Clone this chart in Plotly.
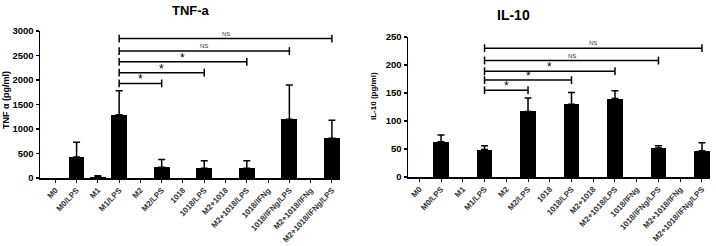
import plotly.graph_objects as go

categories = ["M0", "M0/LPS", "M1", "M1/LPS", "M2", "M2/LPS", "1018", "1018/LPS",
              "M2+1018", "M2+1018/LPS", "1018/IFNg", "1018/IFNg/LPS",
              "M2+1018/IFNg", "M2+1018/IFNg/LPS"]

tnf_mean = [0, 430, 30, 1290, 0, 220, 0, 200, 0, 200, 10, 1200, 0, 810]
tnf_err = [0, 300, 15, 490, 0, 160, 0, 150, 0, 150, 0, 700, 0, 370]

il10_mean = [0, 63, 0, 49, 0, 117, 0, 130, 0, 140, 0, 52, 0, 47]
il10_err = [0, 12, 0, 7, 0, 24, 0, 21, 0, 14, 0, 4, 0, 14]

# significance brackets: from M1/LPS to target category
bracket_targets = ["M2/LPS", "1018/LPS", "M2+1018/LPS", "1018/IFNg/LPS", "M2+1018/IFNg/LPS"]
bracket_labels = ["*", "*", "*", "NS", "NS"]
tnf_bracket_y = [1930, 2150, 2370, 2590, 2845]
il10_bracket_y = [155, 173, 189, 208, 230]
bracket_from = "M1/LPS"

W, H = 716, 246


def px(v):
    return v / W


def py(v):
    return 1 - v / H


fig = go.Figure()
xs = list(range(len(categories)))


def add_panel(mean, err, width, xa, ya):
    fig.add_trace(go.Bar(x=xs, y=mean, width=width,
                         marker=dict(color="black", line=dict(width=0)),
                         xaxis=xa, yaxis=ya, showlegend=False, hoverinfo="skip"))
    idx = [i for i, e in enumerate(err) if e > 0]
    fig.add_trace(go.Scatter(
        x=[xs[i] for i in idx], y=[mean[i] for i in idx], mode="markers",
        marker=dict(size=1, opacity=0),
        error_y=dict(type="data", symmetric=False, array=[err[i] for i in idx],
                     arrayminus=[0] * len(idx), color="black", thickness=1.5, width=3.5),
        xaxis=xa, yaxis=ya, showlegend=False, hoverinfo="skip"))


add_panel(tnf_mean, tnf_err, 0.74, "x", "y")
add_panel(il10_mean, il10_err, 0.72, "x2", "y2")

tickfont_x = dict(family="Liberation Sans, Arial, sans-serif", size=8, color="#333", weight="bold")

common_x = dict(tickmode="array", tickvals=xs, ticktext=categories, tickangle=-47,
                tickfont=tickfont_x, showline=True, linecolor="black", linewidth=1.5,
                ticks="outside", ticklen=3, tickwidth=1, tickcolor="black",
                showgrid=False, zeroline=False, fixedrange=True, automargin=False)
common_y = dict(showline=True, linecolor="black", linewidth=1.5, ticks="outside",
                ticklen=3, tickwidth=1.5, tickcolor="black", showgrid=False, zeroline=False,
                automargin=False, fixedrange=True,
                tickfont=dict(family="Liberation Sans, Arial, sans-serif", size=9.5,
                              color="black", weight="bold"))

fig.update_layout(
    width=W, height=H, margin=dict(l=0, r=0, t=0, b=0, autoexpand=False),
    plot_bgcolor="white", paper_bgcolor="white", bargap=0,
    xaxis=dict(domain=[px(40), px(340)], range=[-0.72, 13.38], anchor="y", **common_x),
    yaxis=dict(domain=[py(178), py(31)], range=[0, 3000], anchor="x",
               tickvals=[0, 500, 1000, 1500, 2000, 2500, 3000], **common_y),
    xaxis2=dict(domain=[px(408), px(710)], range=[-0.52, 13.37], anchor="y2", **common_x),
    yaxis2=dict(domain=[py(177), py(37)], range=[0, 250], anchor="x2",
                tickvals=[0, 50, 100, 150, 200, 250], **common_y),
)

fbold = dict(family="Liberation Sans, Arial, sans-serif", color="black", weight="bold")

annotations = [
    dict(text="TNF-a", x=px(170), y=py(10), xref="paper", yref="paper",
         yanchor="middle", showarrow=False, font=dict(size=13, **fbold)),
    dict(text="IL-10", x=px(532), y=py(15), xref="paper", yref="paper",
         yanchor="middle", showarrow=False, font=dict(size=14, **fbold)),
    dict(text="TNF α (pg/ml)", x=px(6), y=py(100), xref="paper", yref="paper",
         xanchor="center", yanchor="middle",
         showarrow=False, textangle=-90, font=dict(size=9, **fbold)),
    dict(text="IL-10 (pg/ml)", x=px(373), y=py(96), xref="paper", yref="paper",
         xanchor="center", yanchor="middle",
         showarrow=False, textangle=-90, font=dict(size=8, **fbold)),
]

shapes = []
x0 = categories.index(bracket_from)
for axes, levels, cap in (("", tnf_bracket_y, 80), ("2", il10_bracket_y, 7)):
    xr, yr = "x" + axes, "y" + axes
    for tgt, lab, lvl in zip(bracket_targets, bracket_labels, levels):
        x1 = categories.index(tgt)
        ln = dict(color="black", width=1.5)
        shapes.append(dict(type="line", xref=xr, yref=yr, x0=x0, x1=x1, y0=lvl, y1=lvl, line=ln))
        shapes.append(dict(type="line", xref=xr, yref=yr, x0=x0, x1=x0, y0=lvl - cap, y1=lvl + cap, line=ln))
        shapes.append(dict(type="line", xref=xr, yref=yr, x0=x1, x1=x1, y0=lvl - cap, y1=lvl + cap, line=ln))
        if lab == "*":
            annotations.append(dict(text="*", x=(x0 + x1) / 2, y=lvl, xref=xr, yref=yr,
                                    showarrow=False, yanchor="bottom", yshift=-5,
                                    font=dict(size=12, family="Liberation Sans, Arial", color="black")))
        else:
            annotations.append(dict(text="NS", x=(x0 + x1) / 2, y=lvl, xref=xr, yref=yr,
                                    showarrow=False, yanchor="bottom", yshift=0,
                                    font=dict(size=6, family="Liberation Sans, Arial", color="#333")))

fig.update_layout(annotations=annotations, shapes=shapes)
fig.write_html("out.html", config={"displayModeBar": False, "staticPlot": True},
               post_script="document.body.style.margin='0px';document.body.style.padding='0px';")
